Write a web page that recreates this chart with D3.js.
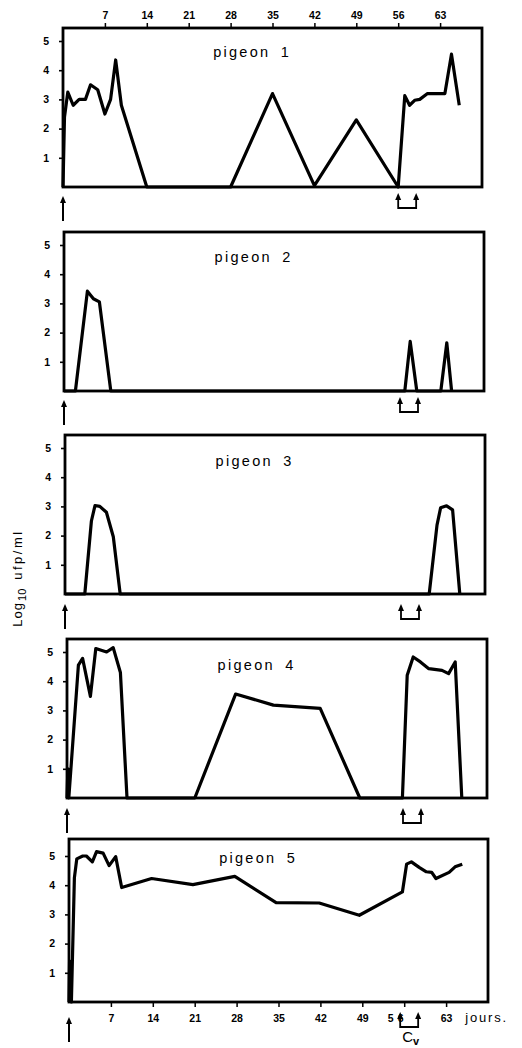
<!DOCTYPE html>
<html><head><meta charset="utf-8">
<script src="https://cdn.jsdelivr.net/npm/d3@7"></script>
<style>body{margin:0;background:#fff}svg{display:block}</style></head>
<body>
<svg id="c" width="522" height="1048"></svg>
<script>
// ---- data ----
const dayTicks = [7, 14, 21, 28, 35, 42, 49, 56, 63];
const yTicks = [1, 2, 3, 4, 5];
const pigeonNames = ["pigeon 1", "pigeon 2", "pigeon 3", "pigeon 4", "pigeon 5"];
const cvDays = [56, 59];
const inoculationDay = 0;

const pigeon1Days = [0, 0.25, 0.8, 1.7, 2.7, 3.75, 4.6, 5.8, 7, 7.95, 8.8, 9.75, 14, 28, 35, 42, 49, 56, 57.1, 57.9, 58.75, 59.6, 60.9, 63.8, 64.9, 66.2];
const pigeon1Log  = [0, 2.4, 3.25, 2.8, 3.0, 3.0, 3.5, 3.33, 2.5, 3.0, 4.35, 2.8, 0, 0, 3.2, 0.05, 2.3, 0, 3.13, 2.8, 2.97, 3.0, 3.2, 3.2, 4.55, 2.8];

const pigeon2Days = [0, 1.9, 3.9, 4.9, 5.9, 7.8, 56.8, 57.7, 58.8, 62.8, 63.8, 64.6];
const pigeon2Log  = [0, 0, 3.42, 3.16, 3.05, 0, 0, 1.7, 0, 0, 1.65, 0];

const pigeon3Days = [0, 3.3, 4.4, 5.0, 5.8, 6.9, 8.05, 9.2, 60.7, 62.0, 62.6, 63.6, 64.6, 65.8];
const pigeon3Log  = [0, 0, 2.5, 3.03, 3.0, 2.8, 1.96, 0, 0, 2.36, 2.95, 3.02, 2.88, 0];

const pigeon4Days = [0, 0.15, 0.3, 1.9, 2.6, 3.9, 4.8, 6.6, 7.7, 8.9, 10.0, 21.3, 28.1, 34.4, 42.2, 48.8, 55.9, 56.7, 57.7, 58.9, 60.3, 62.5, 63.6, 64.7, 65.8];
const pigeon4Log  = [0, 1.0, 0, 4.55, 4.78, 3.48, 5.12, 5.0, 5.15, 4.3, 0, 0, 3.56, 3.18, 3.07, 0, 0, 4.2, 4.83, 4.66, 4.43, 4.37, 4.26, 4.66, 0];

const pigeon5Days = [0, 0.1, 0.4, 0.9, 1.3, 2.3, 2.9, 3.9, 4.6, 5.7, 6.7, 7.8, 8.8, 13.8, 20.7, 27.7, 34.6, 41.8, 48.5, 55.7, 56.4, 57.2, 58.5, 59.7, 60.6, 61.3, 63.5, 64.5, 65.7];
const pigeon5Log  = [0, 1.4, 0, 4.25, 4.9, 5.0, 5.0, 4.8, 5.15, 5.1, 4.67, 4.98, 3.92, 4.23, 4.02, 4.3, 3.4, 3.39, 2.97, 3.77, 4.72, 4.8, 4.61, 4.46, 4.44, 4.23, 4.44, 4.63, 4.72];

const seriesDays = [pigeon1Days, pigeon2Days, pigeon3Days, pigeon4Days, pigeon5Days];
const seriesLog  = [pigeon1Log, pigeon2Log, pigeon3Log, pigeon4Log, pigeon5Log];

// ---- layout ----
const boxes = [
  {l: 63, r: 482, t: 28,  b: 187, tt: 29},
  {l: 64, r: 484, t: 232, b: 391, tt: 30},
  {l: 65, r: 485, t: 435, b: 594, tt: 31},
  {l: 67, r: 487, t: 639, b: 798, tt: 31},
  {l: 69, r: 488, t: 839, b: 1002, tt: 24}
];
const unitPx = 29.2;
const font = "'Liberation Sans', Arial, sans-serif";

const svg = d3.select("#c");
svg.append("rect").attr("width", 522).attr("height", 1048).attr("fill", "#fff");

function arrowHead(g, x, y) {
  g.append("path").attr("d", `M${x-3},${y+7} L${x},${y} L${x+3},${y+7} Z`).attr("fill", "#000");
}

boxes.forEach((bx, i) => {
  const x = d3.scaleLinear().domain([0, 70]).range([bx.l, bx.r]);
  const y = d3.scaleLinear().domain([0, 5]).range([bx.b, bx.b - 5 * unitPx]);
  const g = svg.append("g");

  // data line
  const pts = seriesDays[i].map((d, k) => [d, seriesLog[i][k]]);
  g.append("path")
    .datum(pts)
    .attr("d", d3.line().x(d => x(d[0])).y(d => y(d[1])))
    .attr("fill", "none").attr("stroke", "#000")
    .attr("stroke-width", 3.2).attr("stroke-linejoin", "round");

  // box
  g.append("rect").attr("x", bx.l).attr("y", bx.t)
    .attr("width", bx.r - bx.l).attr("height", bx.b - bx.t)
    .attr("fill", "none").attr("stroke", "#000").attr("stroke-width", 2.8);

  // left axis
  const ya = d3.axisLeft(y).tickValues(yTicks).tickSize(4).tickPadding(10).tickFormat(d3.format("d"));
  const ag = g.append("g").attr("transform", `translate(${bx.l},0)`).call(ya);
  ag.select(".domain").remove();
  ag.selectAll("line").attr("stroke", "#000").attr("stroke-width", 1.6);
  ag.selectAll("text").attr("font-family", font).attr("font-size", 10.5).attr("font-weight", "bold").attr("fill", "#000");

  // title
  g.append("text").attr("x", x(31.6)).attr("y", bx.t + bx.tt)
    .attr("text-anchor", "middle").attr("font-family", font)
    .attr("font-size", 14.5).attr("letter-spacing", 2.3).attr("word-spacing", 4)
    .attr("fill", "#000").text(pigeonNames[i]);

  // top axis on first panel
  if (i === 0) {
    const xa = d3.axisTop(x).tickValues(dayTicks).tickSize(5).tickPadding(4);
    const tg = g.append("g").attr("transform", `translate(0,${bx.t})`).call(xa);
    tg.select(".domain").remove();
    tg.selectAll("line").attr("stroke", "#000").attr("stroke-width", 1.5);
    tg.selectAll("text").attr("font-family", font).attr("font-size", 10.5).attr("font-weight", "bold").attr("fill", "#000");
  }
  // bottom axis on last panel
  if (i === 4) {
    const xa = d3.axisBottom(x).tickValues(dayTicks).tickSize(5).tickPadding(8);
    const bg = g.append("g").attr("transform", `translate(0,${bx.b})`).call(xa);
    bg.select(".domain").remove();
    bg.selectAll("line").attr("stroke", "#000").attr("stroke-width", 1.5);
    bg.selectAll("text").attr("font-family", font).attr("font-size", 10.5).attr("font-weight", "bold").attr("fill", "#000")
      .attr("letter-spacing", d => d === 56 ? 4 : 0)
      .attr("dx", d => d === 56 ? -7 : 0);
    g.append("text").attr("x", x(66.2)).attr("y", bx.b + 20)
      .attr("font-family", font).attr("font-size", 13).attr("letter-spacing", 1.8)
      .attr("fill", "#000").text("jours.");
  }

  // inoculation arrow
  const off = i === 4 ? 15 : (i < 2 ? 9 : 10);
  const ax = x(inoculationDay);
  g.append("line").attr("x1", ax).attr("x2", ax).attr("y1", bx.b + off + 4).attr("y2", bx.b + off + 25)
    .attr("stroke", "#000").attr("stroke-width", 2);
  arrowHead(g, ax, bx.b + off);

  // Cv bracket
  const boff = i < 2 ? 6 : 10;
  const xs = cvDays.map(d => x(d) - (i === 4 ? 4 : 0));
  g.append("path")
    .attr("d", `M${xs[0]},${bx.b + boff + 4} V${bx.b + boff + 15} H${xs[1]} V${bx.b + boff + 4}`)
    .attr("fill", "none").attr("stroke", "#000").attr("stroke-width", 1.8);
  xs.forEach(xx => arrowHead(g, xx, bx.b + boff));

  if (i === 4) {
    const t = g.append("text").attr("x", (xs[0] + xs[1]) / 2 - 7).attr("y", bx.b + 40)
      .attr("font-family", font).attr("font-size", 15).attr("fill", "#000");
    t.append("tspan").text("C");
    t.append("tspan").attr("font-size", 11).attr("dy", 3).attr("font-weight", "bold").text("v");
  }
});

// y-axis label
const yl = svg.append("text")
  .attr("transform", "translate(22,578) rotate(-90)")
  .attr("text-anchor", "middle").attr("font-family", font)
  .attr("font-size", 13).attr("fill", "#000");
yl.append("tspan").attr("letter-spacing", 1).text("Log");
yl.append("tspan").attr("font-size", 11).attr("dy", 4).attr("dx", 1).text("10");
yl.append("tspan").attr("dy", -4).attr("dx", 9).attr("letter-spacing", 2.5).text("ufp/ml");
</script>
</body></html>
